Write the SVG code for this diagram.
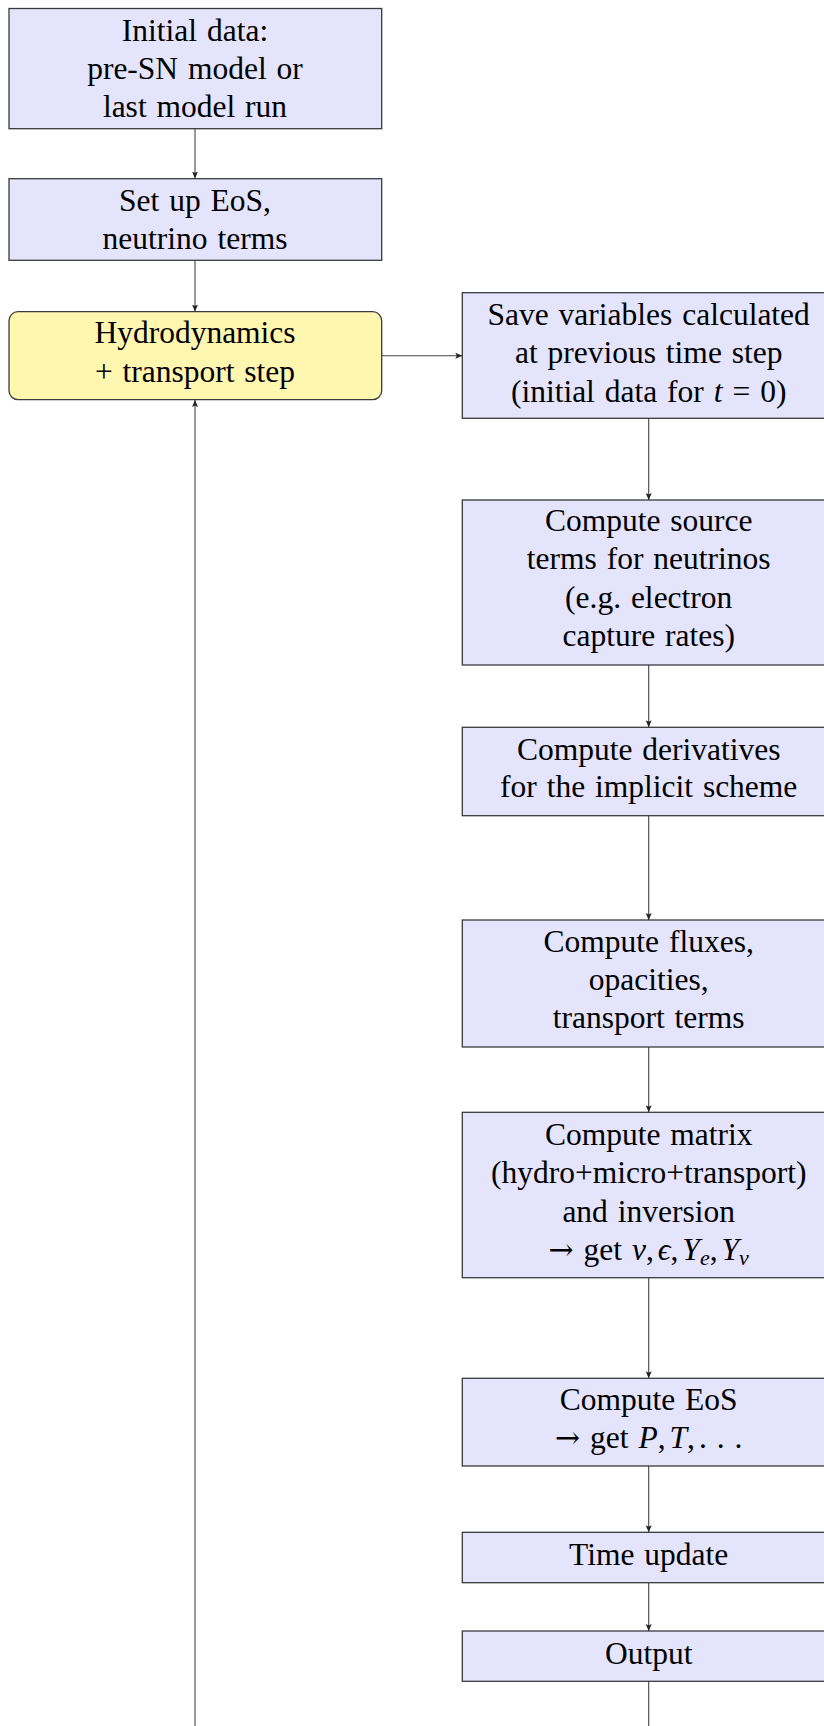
<svg xmlns="http://www.w3.org/2000/svg" width="824" height="1726" viewBox="0 0 824 1726">
<defs>
<marker id="ah" markerUnits="userSpaceOnUse" markerWidth="8" markerHeight="8" viewBox="0 0 8 8" refX="7" refY="4" orient="auto">
<path d="M0,1 L7,4 L0,7 L1.5,4 Z" fill="#222"/>
</marker>
<style>
.b{fill:#e4e4fc;stroke:#3a3a3a;stroke-width:1.3}
.y{fill:#fff6b0;stroke:#3a3a3a;stroke-width:1.3}
.t{font-family:"Liberation Serif","Times New Roman",serif;font-size:31.5px;fill:#000;text-anchor:middle;word-spacing:2px}
.i{font-style:italic}
.ar{font-family:"DejaVu Serif",serif;font-size:30px}
.c{stroke:#444;stroke-width:1.1;fill:none}
</style>
</defs>
<g id="connectors">
<line class="c" x1="195" y1="129" x2="195" y2="178.5" marker-end="url(#ah)"/>
<line class="c" x1="195" y1="260.5" x2="195" y2="311.5" marker-end="url(#ah)"/>
<line class="c" x1="381.7" y1="355.7" x2="462.3" y2="355.7" marker-end="url(#ah)"/>
<line class="c" x1="648.7" y1="418.3" x2="648.7" y2="500" marker-end="url(#ah)"/>
<line class="c" x1="648.7" y1="665" x2="648.7" y2="727.3" marker-end="url(#ah)"/>
<line class="c" x1="648.7" y1="815.7" x2="648.7" y2="920" marker-end="url(#ah)"/>
<line class="c" x1="648.7" y1="1047" x2="648.7" y2="1112.3" marker-end="url(#ah)"/>
<line class="c" x1="648.7" y1="1277.7" x2="648.7" y2="1378.3" marker-end="url(#ah)"/>
<line class="c" x1="648.7" y1="1466" x2="648.7" y2="1532.3" marker-end="url(#ah)"/>
<line class="c" x1="648.7" y1="1582.7" x2="648.7" y2="1631" marker-end="url(#ah)"/>
<line class="c" x1="648.7" y1="1681.3" x2="648.7" y2="1726"/>
<line class="c" x1="195" y1="1726" x2="195" y2="400" marker-end="url(#ah)"/>
</g>
<g id="n1">
<rect class="b" x="9" y="8.5" width="372.7" height="120.2"/>
<text class="t" x="195" y="41">Initial data:</text>
<text class="t" x="195" y="79">pre-SN model or</text>
<text class="t" x="195" y="117">last model run</text>
</g>
<g id="n2">
<rect class="b" x="9" y="178.7" width="372.7" height="81.6"/>
<text class="t" x="195" y="210.7">Set up EoS,</text>
<text class="t" x="195" y="249.3">neutrino terms</text>
</g>
<g id="n3">
<rect class="y" x="9" y="311.7" width="372.7" height="88" rx="9" ry="9"/>
<text class="t" x="195" y="343.3">Hydrodynamics</text>
<text class="t" x="195" y="381.7">+ transport step</text>
</g>
<g id="n4">
<rect class="b" x="462.3" y="292.7" width="380" height="125.6"/>
<text class="t" x="648.7" y="325">Save variables calculated</text>
<text class="t" x="648.7" y="363.3">at previous time step</text>
<text class="t" x="648.7" y="401.7">(initial data for <tspan class="i">t</tspan><tspan dx="10">=</tspan><tspan dx="10">0)</tspan></text>
</g>
<g id="n5">
<rect class="b" x="462.3" y="500" width="380" height="165"/>
<text class="t" x="648.7" y="530.7">Compute source</text>
<text class="t" x="648.7" y="569.3">terms for neutrinos</text>
<text class="t" x="648.7" y="607.7">(e.g. electron</text>
<text class="t" x="648.7" y="646">capture rates)</text>
</g>
<g id="n6">
<rect class="b" x="462.3" y="727.3" width="380" height="88.4"/>
<text class="t" x="648.7" y="760">Compute derivatives</text>
<text class="t" x="648.7" y="797.3">for the implicit scheme</text>
</g>
<g id="n7">
<rect class="b" x="462.3" y="920" width="380" height="127"/>
<text class="t" x="648.7" y="951.7">Compute fluxes,</text>
<text class="t" x="648.7" y="990">opacities,</text>
<text class="t" x="648.7" y="1028.3">transport terms</text>
</g>
<g id="n8">
<rect class="b" x="462.3" y="1112.3" width="380" height="165.4"/>
<text class="t" x="648.7" y="1145">Compute matrix</text>
<text class="t" x="648.7" y="1183.3">(hydro+micro+transport)</text>
<text class="t" x="648.7" y="1221.7">and inversion</text>
<text class="t" x="648.7" y="1260"><tspan class="ar">→</tspan> get <tspan class="i">v</tspan>,<tspan class="i" dx="4">ϵ</tspan>,<tspan class="i" dx="4">Y</tspan><tspan class="i" font-size="22" dy="5">e</tspan><tspan dy="-5">,</tspan><tspan class="i" dx="4">Y</tspan><tspan class="i" font-size="22" dy="5">ν</tspan></text>
</g>
<g id="n9">
<rect class="b" x="462.3" y="1378.3" width="380" height="87.7"/>
<text class="t" x="648.7" y="1410">Compute EoS</text>
<text class="t" x="648.7" y="1448.3"><tspan class="ar">→</tspan> get <tspan class="i">P</tspan>,<tspan class="i" dx="4">T</tspan>,<tspan dx="4">. . .</tspan></text>
</g>
<g id="n10">
<rect class="b" x="462.3" y="1532.3" width="380" height="50.4"/>
<text class="t" x="648.7" y="1565">Time update</text>
</g>
<g id="n11">
<rect class="b" x="462.3" y="1631" width="380" height="50.3"/>
<text class="t" x="648.7" y="1664.3">Output</text>
</g>
</svg>
